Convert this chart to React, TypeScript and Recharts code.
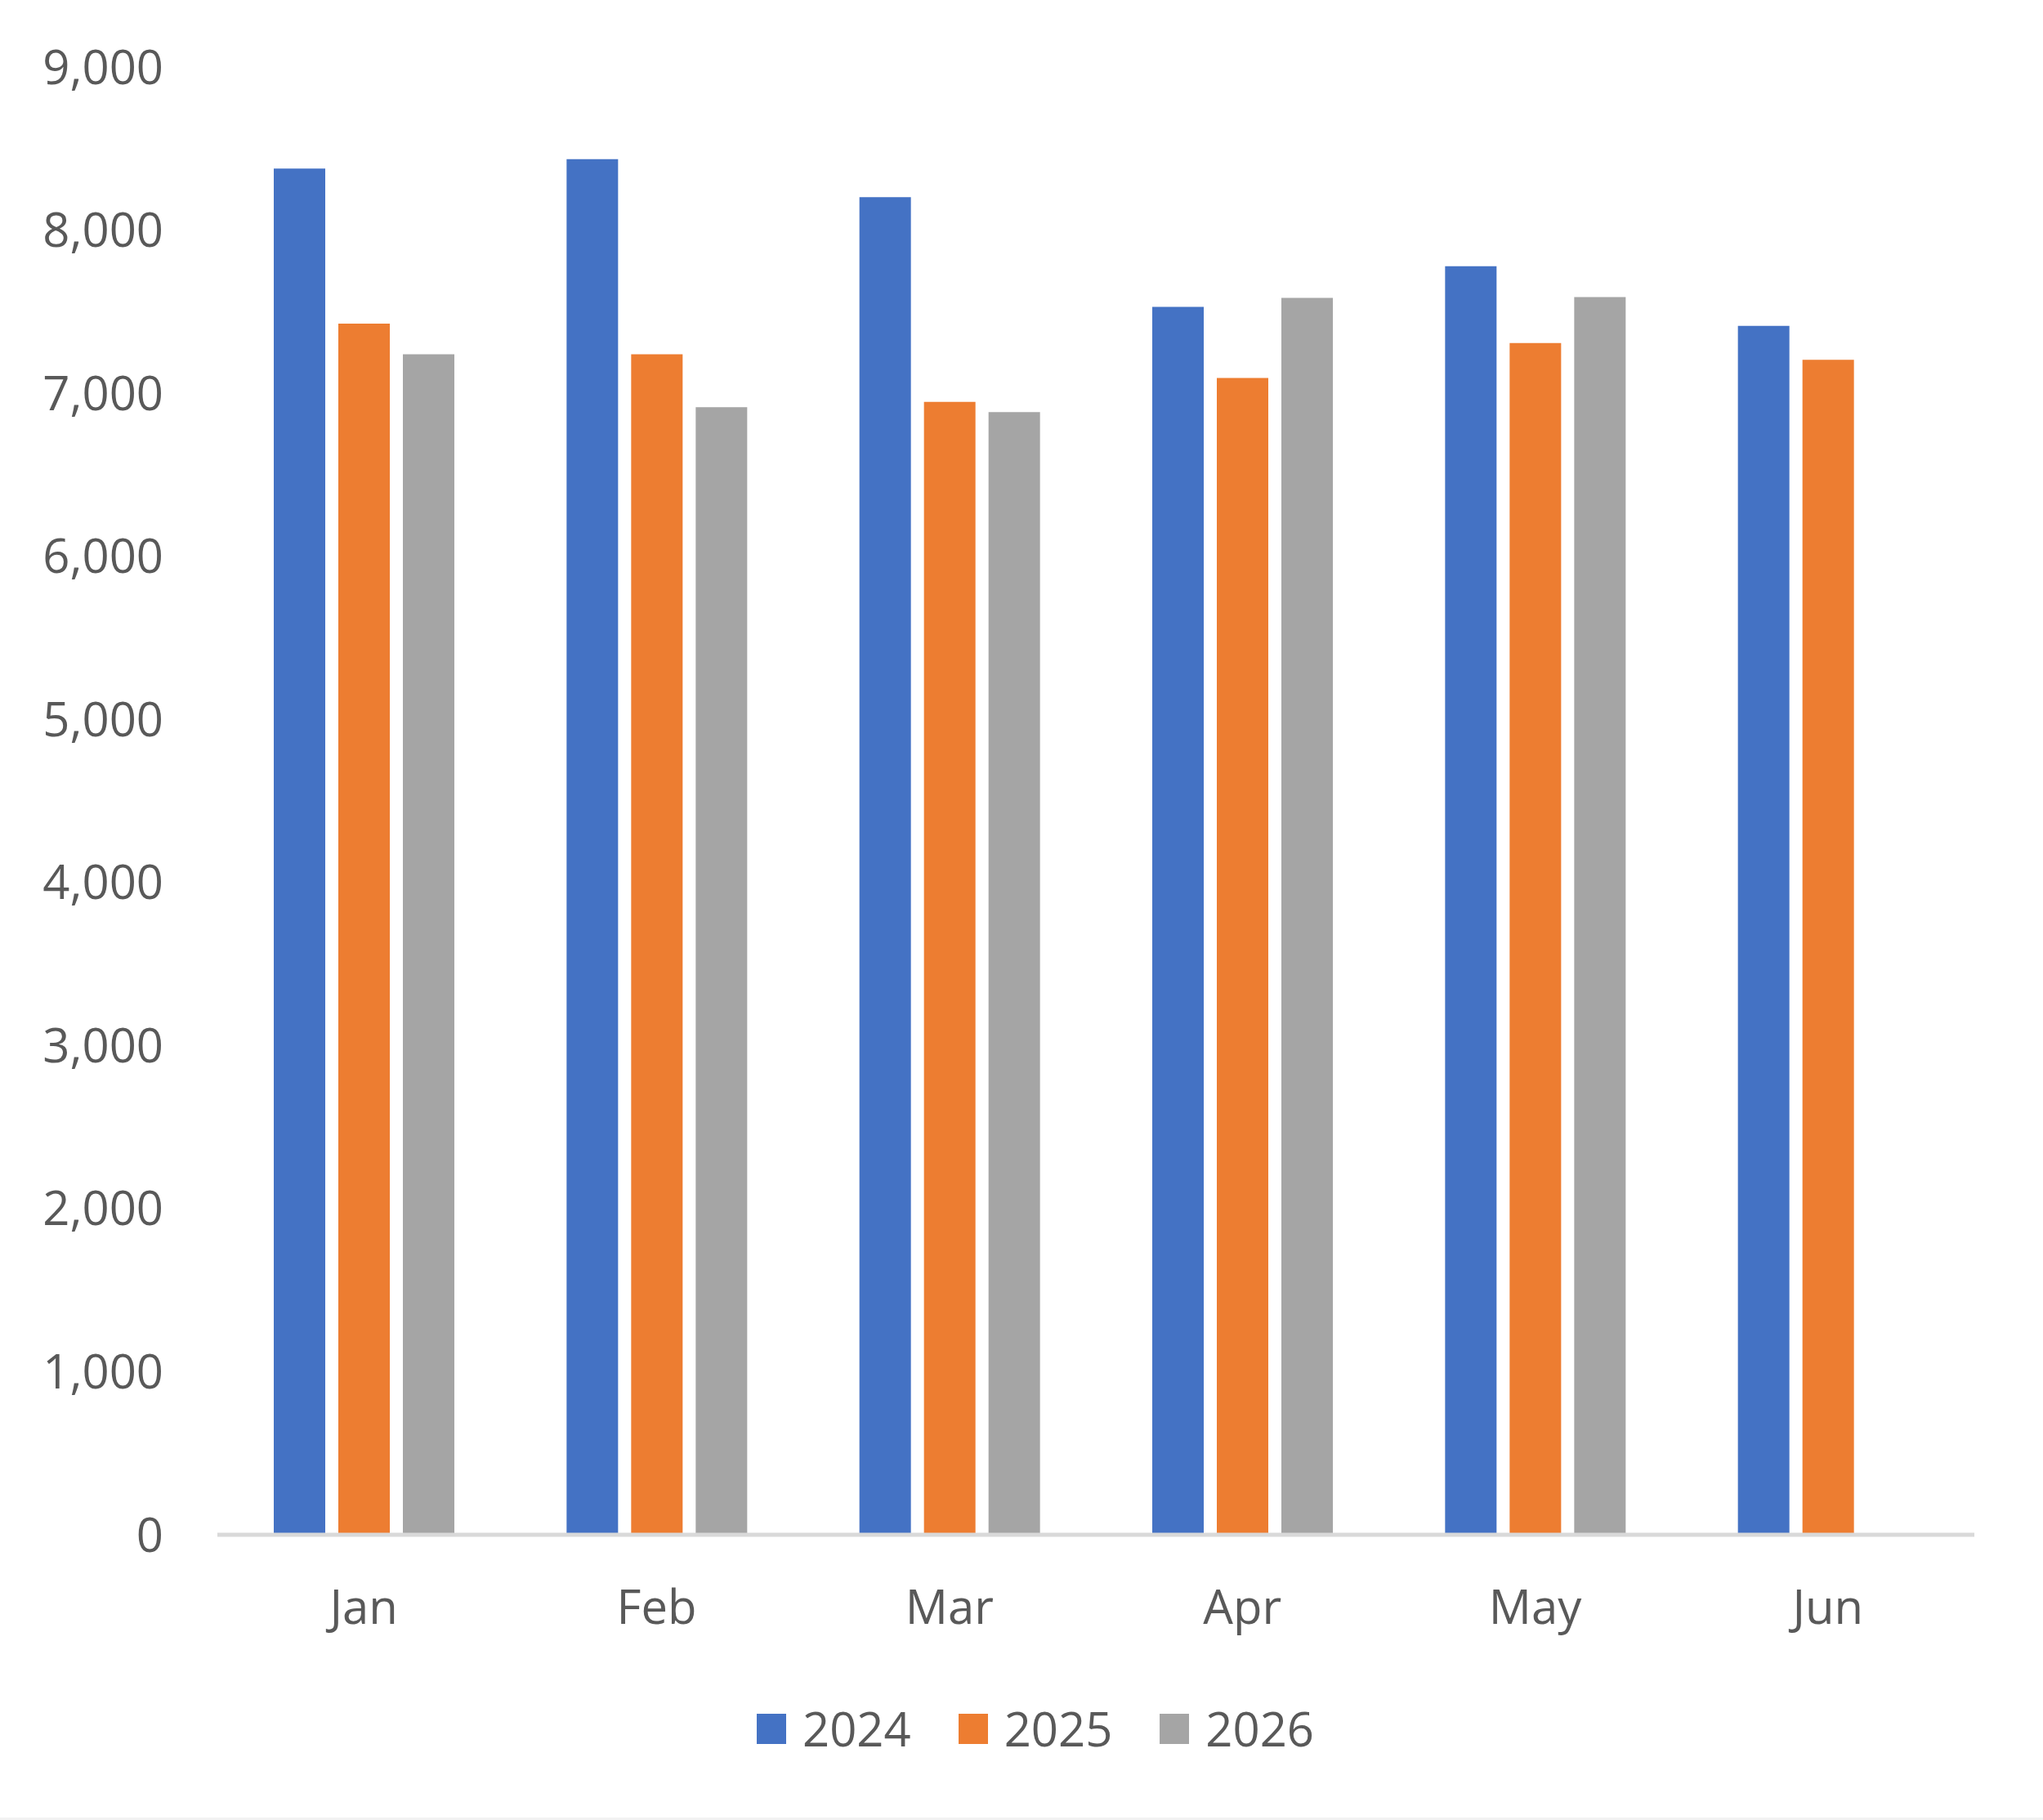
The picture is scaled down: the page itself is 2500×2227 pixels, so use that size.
import React from "react";
import { Bar, BarChart, Legend, XAxis, YAxis } from "recharts";

const months = ["Jan", "Feb", "Mar", "Apr", "May", "Jun"];
const sales2024 = [8377, 8435, 8202, 7529, 7779, 7413];
const sales2025 = [7426, 7238, 6947, 7093, 7308, 7205];
const sales2026: (number | null)[] = [7238, 6914, 6884, 7584, 7589, null];
const yTicks = [0, 1000, 2000, 3000, 4000, 5000, 6000, 7000, 8000, 9000];

const series = [
  { key: "y2024", name: "2024", color: "#4472C4" },
  { key: "y2025", name: "2025", color: "#ED7D31" },
  { key: "y2026", name: "2026", color: "#A5A5A5" },
];

const data = months.map((month, i) => ({
  month,
  y2024: sales2024[i],
  y2025: sales2025[i],
  y2026: sales2026[i],
}));

const font = "'Open Sans', sans-serif";
const textColor = "#595959";
const tick = { fill: textColor, fontSize: 58, fontFamily: font };

function LegendRow() {
  return (
    <div
      style={{
        display: "flex",
        justifyContent: "center",
        alignItems: "center",
        height: 60,
        fontFamily: font,
        fontSize: 58,
        color: textColor,
      }}
    >
      {series.map((s) => (
        <div key={s.key} style={{ display: "flex", alignItems: "center", marginRight: 58 }}>
          <span style={{ width: 36, height: 37, background: s.color, marginRight: 20, display: "inline-block" }} />
          <span style={{ lineHeight: "60px" }}>{s.name}</span>
        </div>
      ))}
    </div>
  );
}

export default function App() {
  return (
    <div style={{ position: "absolute", left: 0, top: 0, width: 2500, height: 2227, background: "#fff" }}>
      <BarChart
        width={2500}
        height={2227}
        data={data}
        margin={{ top: 82, right: 84, left: 0, bottom: 79 }}
        barSize={63}
        barGap={16}
      >
        <XAxis
          dataKey="month"
          tick={tick}
          tickLine={false}
          tickSize={0}
          tickMargin={68}
          height={210}
          axisLine={{ stroke: "#D9D9D9", strokeWidth: 5 }}
        />
        <YAxis
          domain={[0, 9000]}
          ticks={yTicks}
          tick={tick}
          tickFormatter={(v: number) => v.toLocaleString("en-US")}
          axisLine={false}
          tickLine={false}
          tickSize={0}
          tickMargin={66}
          width={266}
        />
        <Legend
          verticalAlign="bottom"
          content={() => <LegendRow />}
          wrapperStyle={{ left: 46, width: 2500, bottom: 82 }}
        />
        {series.map((s) => (
          <Bar key={s.key} dataKey={s.key} name={s.name} fill={s.color} isAnimationActive={false} />
        ))}
      </BarChart>
      <div style={{ position: "absolute", left: 0, bottom: 0, width: 2500, height: 3, background: "#F2F2F2" }} />
    </div>
  );
}
